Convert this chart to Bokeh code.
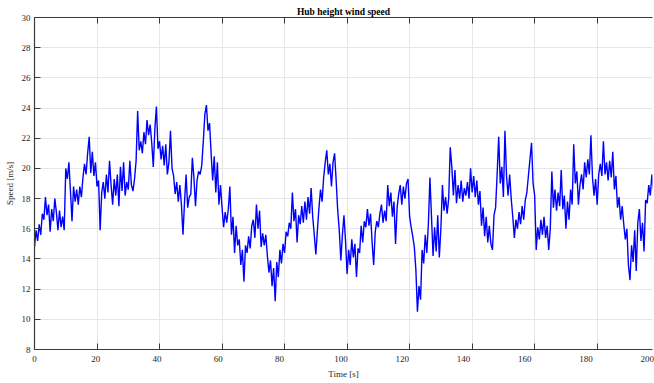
from bokeh.plotting import figure
from bokeh.models import LinearAxis, FixedTicker, Range1d
from bokeh.embed import file_html
from bokeh.resources import INLINE

sample_step = 0.5
speed = [
    14.8, 15.9, 15.2, 16.3, 15.6, 17.0, 16.6, 18.1, 16.9, 17.6, 15.8, 17.3, 16.5, 18.0, 17.1, 15.9, 17.2, 16.1, 16.8, 15.9,
    20.0, 19.3, 20.4, 18.5, 16.5, 18.8, 17.8, 18.6, 17.6, 18.8, 18.1, 19.4, 20.3, 19.6, 21.0, 22.1, 19.7, 21.1, 19.5, 20.4,
    18.8, 19.2, 15.9, 18.4, 19.1, 18.0, 19.6, 18.4, 20.5, 18.9, 17.6, 19.3, 18.2, 19.6, 17.5, 20.1, 18.5, 20.4, 18.2, 19.1,
    18.6, 20.5, 18.9, 18.5, 19.3, 20.5, 23.8, 21.2, 21.8, 21.0, 22.4, 21.6, 23.2, 22.2, 22.9, 21.7, 20.1, 22.6, 24.1, 21.3,
    21.8, 20.6, 21.5, 20.2, 21.6, 19.6, 20.4, 22.5, 20.0, 19.5, 18.3, 19.1, 17.8, 18.9, 17.6, 15.6, 17.8, 19.6, 17.4, 18.1,
    18.3, 20.7, 19.4, 17.5, 19.2, 19.8, 19.6, 20.2, 21.8, 23.6, 24.2, 22.5, 23.0, 21.0, 19.2, 20.8, 18.4, 20.4, 17.6, 18.9,
    17.4, 16.1, 17.1, 16.4, 17.3, 18.8, 15.6, 16.8, 14.4, 16.2, 14.9, 15.3, 13.6, 14.6, 12.5, 14.9, 14.4, 15.5, 14.7, 16.2,
    16.6, 15.4, 17.6, 16.0, 17.2, 14.8, 15.7, 14.9, 15.6, 14.2, 13.1, 13.9, 12.2, 13.4, 11.2, 13.8, 12.8, 14.6, 13.7, 15.0,
    14.4, 15.8, 15.5, 16.4, 16.0, 18.4, 16.5, 17.3, 15.1, 16.9, 16.3, 17.5, 16.4, 17.8, 16.6, 18.1, 17.0, 18.7, 16.8, 15.6,
    14.3, 15.9, 17.4, 18.6, 17.8, 19.4, 20.4, 21.2, 19.6, 20.3, 18.8, 20.4, 21.0, 19.2, 17.2, 15.9, 13.9, 15.6, 16.9, 15.2,
    13.0, 14.6, 13.6, 15.3, 14.1, 15.0, 12.8, 14.7, 14.4, 16.2, 15.1, 16.5, 16.1, 17.3, 16.2, 17.0, 15.1, 13.6, 15.8, 16.5,
    16.1, 17.0, 17.6, 16.4, 17.2, 16.5, 18.9, 17.5, 18.4, 16.8, 17.8, 15.0, 17.4, 18.3, 18.9, 17.6, 18.8, 18.0, 19.0, 19.3,
    16.8, 16.1, 15.5, 14.8, 13.3, 10.5, 12.2, 11.3, 14.6, 13.7, 15.6, 14.4, 16.3, 19.4, 16.8, 14.2, 16.1, 14.5, 16.9, 14.1,
    16.0, 18.9, 17.2, 18.1, 17.0, 18.0, 21.4, 20.1, 18.2, 19.9, 17.7, 18.9, 18.0, 19.2, 17.8, 18.7, 18.2, 19.1, 18.0, 20.0,
    18.4, 19.5, 18.1, 19.2, 17.6, 18.5, 16.2, 17.4, 15.5, 16.8, 15.1, 16.2, 15.0, 14.6, 16.9, 17.4, 19.6, 22.1, 19.0, 20.1,
    18.1, 22.5, 19.5, 18.2, 19.6, 18.0, 16.8, 15.4, 16.6, 16.0, 17.1, 16.3, 17.5, 16.6, 17.9, 18.4, 19.5, 20.6, 21.7, 19.0,
    18.2, 14.6, 16.1, 15.3, 16.6, 15.6, 16.8, 15.4, 16.2, 14.6, 16.0, 19.8, 17.4, 18.6, 17.2, 18.4, 17.5, 19.9, 17.3, 18.2,
    16.0, 17.8, 16.6, 18.6, 17.6, 21.6, 19.0, 19.8, 17.6, 18.9, 19.6, 18.6, 20.4, 19.4, 20.6, 19.6, 22.2, 19.4, 18.2, 19.3,
    17.6, 19.6, 20.3, 19.5, 21.8, 19.6, 20.4, 19.2, 20.5, 19.4, 21.1, 18.6, 19.5, 17.4, 18.1, 16.6, 17.5, 16.3, 15.3, 16.0,
    13.6, 12.6, 14.9, 13.8, 15.9, 13.2, 16.4, 17.3, 15.2, 16.4, 14.5, 17.9, 17.7, 18.9, 18.2, 19.6, 18.6, 19.5, 19.1, 19.6,
    19.3,
]
time = [i * sample_step for i in range(len(speed))]

x_ticks = [0, 20, 40, 60, 80, 100, 120, 140, 160, 180, 200]
y_ticks = [8, 10, 12, 14, 16, 18, 20, 22, 24, 26, 28, 30]

title_text = "Hub height wind speed"
x_label = "Time [s]"
y_label = "Speed [m/s]"

FONT = "Liberation Serif"
AX = "#3a3a3a"
TXT = "#262626"

# the reference's axes box runs a little past the window's right edge (200 s lies
# just outside), while its tick labels are set on a slightly narrower scale.
p = figure(width=654, height=383, output_backend="svg", toolbar_location=None,
           x_range=Range1d(0, 197.7), y_range=Range1d(8, 30),
           min_border_left=34, min_border_right=2, min_border_top=17, min_border_bottom=34)
p.extra_x_ranges = {"ticklabels": Range1d(0, 201.7)}
p.outline_line_color = None
p.background_fill_color = "white"
p.border_fill_color = "white"

p.line(time, speed, line_color="#0000ff", line_width=1.4)

p.xaxis.ticker = FixedTicker(ticks=x_ticks)
p.yaxis.ticker = FixedTicker(ticks=y_ticks)
p.xgrid.ticker = FixedTicker(ticks=x_ticks)
p.ygrid.ticker = FixedTicker(ticks=y_ticks)
for g in (p.xgrid, p.ygrid):
    g.grid_line_color = "#e6e6e6"
    g.grid_line_width = 1

p.yaxis.axis_label = y_label

for ax in (p.xaxis[0], p.yaxis[0]):
    ax.axis_line_color = AX
    ax.axis_line_width = 1.2
    ax.major_tick_line_color = AX
    ax.major_tick_in = 6
    ax.major_tick_out = 0
    ax.minor_tick_line_color = None
    ax.major_label_text_font = FONT
    ax.major_label_text_font_size = "9px"
    ax.major_label_text_color = TXT
    ax.axis_label_text_font = FONT
    ax.axis_label_text_font_size = "9px"
    ax.axis_label_text_font_style = "normal"
    ax.axis_label_text_color = TXT

# bottom frame edge: line and inward ticks only
p.xaxis.major_label_text_color = None
p.xaxis.major_label_text_font_size = "0px"
p.xaxis.major_label_standoff = 0
p.yaxis.major_label_standoff = 4
p.yaxis.axis_label_standoff = 4

# tick labels and axis title of the time axis
lab_axis = LinearAxis(x_range_name="ticklabels", ticker=FixedTicker(ticks=x_ticks),
                      axis_line_color=None, major_tick_line_color=None,
                      minor_tick_line_color=None, major_tick_in=0, major_tick_out=0,
                      major_label_text_font=FONT, major_label_text_font_size="9px",
                      major_label_text_color=TXT, major_label_standoff=6,
                      axis_label=x_label, axis_label_text_font=FONT,
                      axis_label_text_font_size="9px", axis_label_text_font_style="normal",
                      axis_label_text_color=TXT, axis_label_standoff=4)
p.add_layout(lab_axis, "below")

# top frame edge with inward ticks; its axis label carries the chart title
top = LinearAxis(ticker=FixedTicker(ticks=x_ticks), major_label_text_color=None,
                 major_label_text_font_size="0px", major_label_standoff=0,
                 axis_line_color=AX, axis_line_width=1.2, major_tick_line_color=AX,
                 major_tick_in=6, major_tick_out=0, minor_tick_line_color=None,
                 axis_label=title_text, axis_label_text_font=FONT,
                 axis_label_text_font_style="bold", axis_label_text_font_size="9.5px",
                 axis_label_text_color="black", axis_label_standoff=1)
p.add_layout(top, "above")

open("out.html", "w").write(file_html(p, INLINE))
